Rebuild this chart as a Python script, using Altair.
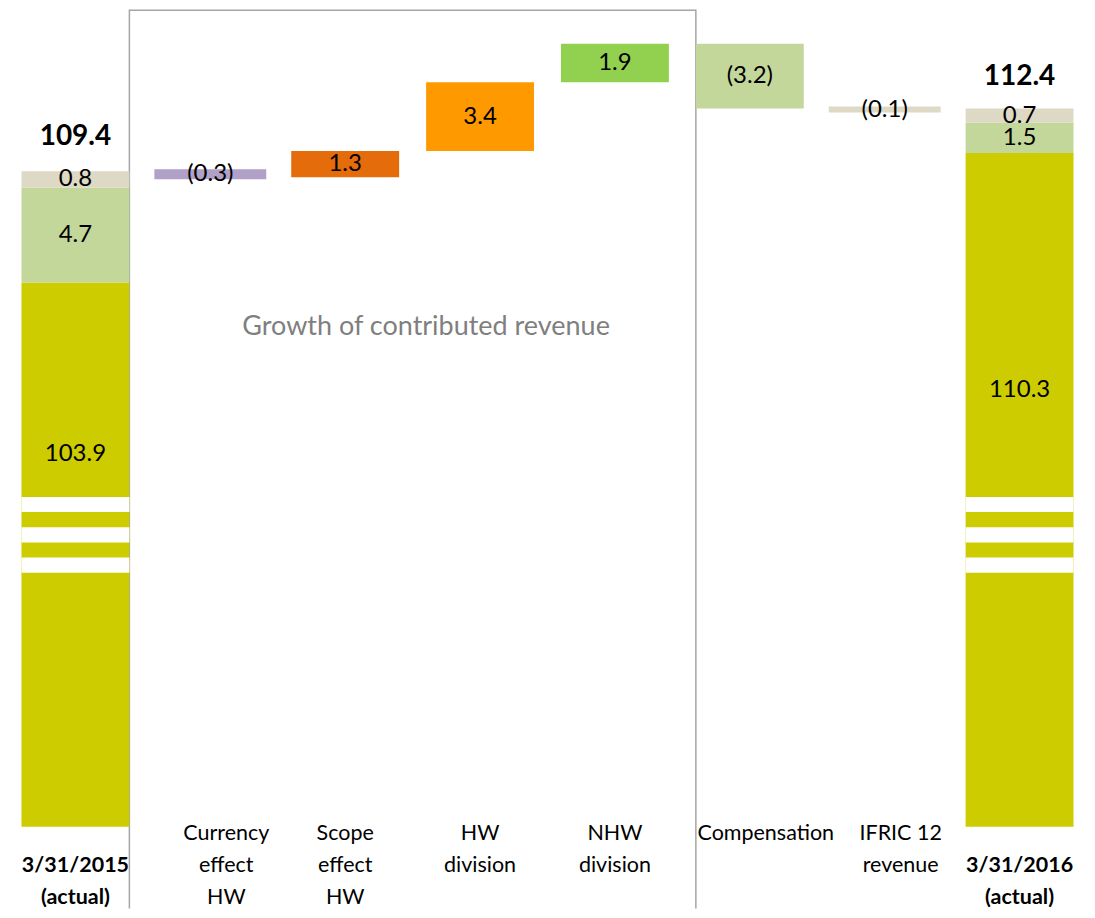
import altair as alt
import pandas as pd

# ---- data ----
categories = ["|3/31/2015|(actual)", "Currency|effect|HW", "Scope|effect|HW",
              "HW|division", "NHW|division", "Compensation", "IFRIC 12|revenue",
              "|3/31/2016|(actual)"]
start_segments = [103.9, 4.7, 0.8]
end_segments = [110.3, 1.5, 0.7]
segment_colors = ["#CCCC00", "#C4D79B", "#DDD9C4"]
totals = [109.4, 112.4]
deltas = [-0.3, 1.3, 3.4, 1.9, -3.2, -0.1]
delta_colors = ["#B1A0C7", "#E46C0A", "#FF9900", "#92D050", "#C4D79B", "#DDD9C4"]
center_title = "Growth of contributed revenue"

# ---- layout constants ----
Y_DOMAIN = [77.0, 117.4]
BREAK_TOP = 93.3
STRIP = 0.75
FONT = "Lato"

def fmt(v):
    return f"({abs(v):.1f})" if v < 0 else f"{v:.1f}"

rows = []
for cat, segs in ((categories[0], start_segments), (categories[-1], end_segments)):
    base = 0.0
    for i, (v, c) in enumerate(zip(segs, segment_colors)):
        top = base + v
        if i == 0:
            ly = (top + BREAK_TOP) / 2 - 3.2
        else:
            ly = (base + top) / 2
        rows.append(dict(cat=cat, y=top, y2=base, color=c, label=fmt(v), ly=ly, small=0))
        base = top

level = totals[0]
for cat, d, c in zip(categories[1:-1], deltas, delta_colors):
    new = level + d
    rows.append(dict(cat=cat, y=max(level, new), y2=min(level, new), color=c,
                     label=fmt(d), ly=(level + new) / 2, small=int(abs(d) < 0.5)))
    level = new
bars = pd.DataFrame(rows)

tot_df = pd.DataFrame({"cat": [categories[0], categories[-1]], "y": totals,
                       "label": [f"{t:.1f}" for t in totals]})

strips = []
for cat in (categories[0], categories[-1]):
    t = BREAK_TOP
    for k in range(3):
        strips.append(dict(cat=cat, y=t, y2=t - STRIP))
        t -= 2 * STRIP
strip_df = pd.DataFrame(strips)

shifted = " || ".join(f"datum.value == '{c}'" for c in (categories[1], categories[5], categories[6]))

xscale = alt.Scale(domain=categories, paddingInner=0.2, paddingOuter=0.1)
yscale = alt.Scale(domain=Y_DOMAIN, clamp=True, nice=False, zero=False)
xaxis = alt.Axis(
    title=None, domain=False, ticks=False, labelAngle=0,
    labelExpr="split(datum.label, '|')", labelFont=FONT, labelFontSize=21.5,
    labelColor="#000000", labelLineHeight=32, labelBaseline="middle",
    labelPadding=7, labelAlign="center",
    labelFontWeight={"condition": {"test": "indexof(datum.value, 'actual') >= 0",
                                   "value": "bold"}, "value": "normal"},
    labelOffset={"condition": {"test": shifted, "value": 16}, "value": 0},
)
X = alt.X("cat:N", scale=xscale, axis=xaxis, sort=categories)

base = alt.Chart(bars)
bar_layer = base.mark_bar(size=108).encode(
    x=X,
    y=alt.Y("y:Q", scale=yscale, axis=None),
    y2="y2:Q",
    color=alt.Color("color:N", scale=None),
    stroke=alt.Color("color:N", scale=None),
    strokeWidth=alt.condition("datum.small == 1", alt.value(4), alt.value(0)),
)
strip_layer = alt.Chart(strip_df).mark_bar(color="white", size=108).encode(
    x=X, y=alt.Y("y:Q", scale=yscale, axis=None), y2="y2:Q")
label_layer = base.mark_text(font=FONT, fontSize=24, color="#000000",
                             baseline="middle").encode(
    x=X, y=alt.Y("ly:Q", scale=yscale, axis=None), text="label:N")
tot_layer = alt.Chart(tot_df).mark_text(font=FONT, fontSize=28, fontWeight="bold",
                                        color="#000000", baseline="middle", dy=-34).encode(
    x=X, y=alt.Y("y:Q", scale=yscale, axis=None), text="label:N")

frame_df = pd.DataFrame({"a": [0]})
left_rule = alt.Chart(frame_df).mark_rule(color="#A6A6A6", strokeWidth=1.5).encode(
    x=alt.X(datum=categories[0], bandPosition=1, scale=xscale, axis=xaxis),
    y=alt.value(0), y2=alt.value(900),
)
right_rule = alt.Chart(frame_df).mark_rule(color="#A6A6A6", strokeWidth=1.5).encode(
    x=alt.X(datum=categories[5], bandPosition=0, scale=xscale, axis=xaxis),
    y=alt.value(0), y2=alt.value(900),
)
top_rule = alt.Chart(frame_df).mark_rule(color="#A6A6A6", strokeWidth=1.5).encode(
    x=alt.X(datum=categories[0], bandPosition=1, scale=xscale, axis=xaxis),
    x2=alt.X2(datum=categories[5], bandPosition=0),
    y=alt.value(0.75),
)
title_layer = alt.Chart(pd.DataFrame({"t": [center_title]})).mark_text(
    font=FONT, fontSize=27, color="#7F7F7F", baseline="middle", align="center").encode(
    x=alt.X(datum=categories[3], bandPosition=0, scale=xscale, axis=xaxis),
    y=alt.Y(datum=101.7, scale=yscale, axis=None),
    text="t:N",
)

chart = alt.layer(left_rule, right_rule, top_rule, bar_layer, strip_layer, label_layer,
                  tot_layer, title_layer).properties(
    width=1080, height=818, padding=0
).configure_view(stroke=None)

chart.save("out.html", embed_options={"renderer": "svg", "actions": False})
